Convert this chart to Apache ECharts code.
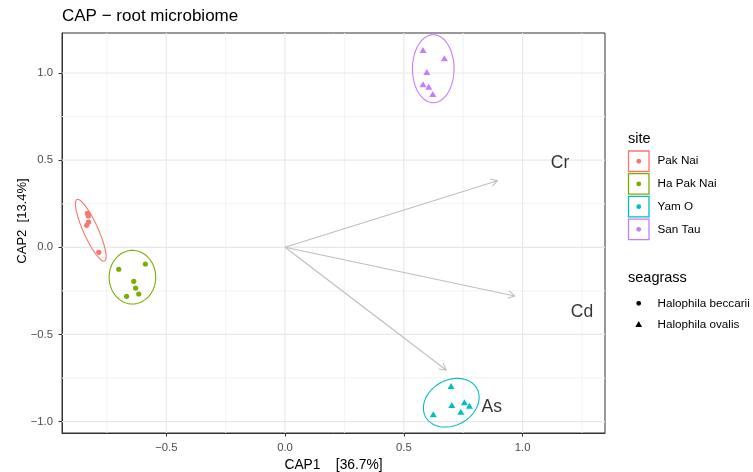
<!DOCTYPE html>
<html>
<head>
<meta charset="utf-8">
<title>CAP − root microbiome</title>
<script src="https://cdn.jsdelivr.net/npm/echarts@6/dist/echarts.min.js"></script>
<style>
  html, body { margin: 0; padding: 0; background: #fff; }
  #chart { width: 753px; height: 472px; }
</style>
</head>
<body>
<div id="chart"></div>
<script>
// ---- data ----
const sites = ['Pak Nai', 'Ha Pak Nai', 'Yam O', 'San Tau'];
const siteColors = ['#F8766D', '#7CAE00', '#00BFC4', '#C77CFF'];
const seagrassTypes = ['Halophila beccarii', 'Halophila ovalis'];
const siteSeagrass = [0, 0, 1, 1];

// CAP1 / CAP2 sample scores per site
const pakNai = [[-0.832, 0.195], [-0.828, 0.180], [-0.827, 0.145], [-0.835, 0.126], [-0.784, -0.029]];
const haPakNai = [[-0.700, -0.126], [-0.588, -0.096], [-0.637, -0.195], [-0.629, -0.234], [-0.616, -0.268], [-0.667, -0.281]];
const yamO = [[0.699, -0.796], [0.702, -0.905], [0.755, -0.889], [0.776, -0.909], [0.740, -0.943], [0.624, -0.958]];
const sanTau = [[0.581, 1.132], [0.671, 1.084], [0.597, 1.006], [0.581, 0.935], [0.605, 0.921], [0.622, 0.880]];
const siteScores = [pakNai, haPakNai, yamO, sanTau];

// site ellipses: centre and two conjugate half-axis vectors (CAP units)
const ellipseCentres = [[-0.818, 0.098], [-0.6425, -0.1715], [0.6998, -0.8916], [0.624, 1.0247]];
const ellipseAxisU = [[0.0581, -0.1761], [0.0981, 0], [0.1077, 0.082], [0.0876, 0]];
const ellipseAxisV = [[0.0282, 0.0172], [0, 0.1538], [0.0464, -0.1132], [0, 0.195]];

// environmental vectors (metals)
const envNames = ['Cr', 'Cd', 'As'];
const envVectors = [[0.894, 0.382], [0.967, -0.279], [0.678, -0.704]];
const envLabelPos = [[1.158, 0.485], [1.250, -0.373], [0.870, -0.915]];

// axes
const xTicks = [-0.5, 0, 0.5, 1.0];
const yTicks = [-1.0, -0.5, 0, 0.5, 1.0];
const xMinor = [-0.75, -0.25, 0.25, 0.75, 1.25];
const yMinor = [-0.75, -0.25, 0.25, 0.75];
const xRange = [-0.939, 1.347];
const yRange = [-1.0654, 1.2295];
const xTitle = 'CAP1    [36.7%]';
const yTitle = 'CAP2  [13.4%]';
const chartTitle = 'CAP \u2212 root microbiome';

// ---- chart ----
const FONT = '"Liberation Sans", Arial, Helvetica, sans-serif';
const fmt = v => v.toFixed(1).replace('-', '\u2212');

// panel grid lines (minor first, major on top)
const gridSeries = {
  type: 'custom', name: 'panel grid', silent: true, z: 1,
  data: [[0, 0]],
  encode: { x: 0, y: 1 },
  renderItem: (params, api) => {
    const children = [];
    const vline = (v, color, w) => {
      const a = api.coord([v, yRange[0]]), b = api.coord([v, yRange[1]]);
      children.push({ type: 'line', shape: { x1: a[0], y1: a[1], x2: b[0], y2: b[1] }, style: { stroke: color, lineWidth: w } });
    };
    const hline = (v, color, w) => {
      const a = api.coord([xRange[0], v]), b = api.coord([xRange[1], v]);
      children.push({ type: 'line', shape: { x1: a[0], y1: a[1], x2: b[0], y2: b[1] }, style: { stroke: color, lineWidth: w } });
    };
    xMinor.forEach(v => vline(v, '#F2F2F2', 1));
    yMinor.forEach(v => hline(v, '#F2F2F2', 1));
    xTicks.forEach(v => vline(v, '#E8E8E8', 1.2));
    yTicks.forEach(v => hline(v, '#E8E8E8', 1.2));
    return { type: 'group', children };
  }
};

const ellipseSeries = sites.map((s, i) => ({
  type: 'custom', name: s + ' ellipse', silent: true, z: 3,
  data: [[...ellipseCentres[i], ...ellipseAxisU[i], ...ellipseAxisV[i]]],
  encode: { x: 0, y: 1 },
  renderItem: (params, api) => {
    const c = [api.value(0), api.value(1)];
    const u = [api.value(2), api.value(3)];
    const w = [api.value(4), api.value(5)];
    const pts = [];
    for (let k = 0; k < 120; k++) {
      const t = (2 * Math.PI * k) / 120;
      pts.push(api.coord([c[0] + u[0] * Math.cos(t) + w[0] * Math.sin(t),
                          c[1] + u[1] * Math.cos(t) + w[1] * Math.sin(t)]));
    }
    return { type: 'polygon', shape: { points: pts },
             style: { fill: 'none', stroke: siteColors[i], lineWidth: 1.1 } };
  }
}));

const arrowSeries = {
  type: 'custom', name: 'vectors', silent: true, z: 2,
  data: envVectors.map(v => [0, 0, v[0], v[1]]),
  encode: { x: [0, 2], y: [1, 3] },
  renderItem: (params, api) => {
    const a = api.coord([api.value(0), api.value(1)]);
    const b = api.coord([api.value(2), api.value(3)]);
    const ang = Math.atan2(b[1] - a[1], b[0] - a[0]);
    const L = 7.5, h = Math.PI / 6;
    const p1 = [b[0] - L * Math.cos(ang - h), b[1] - L * Math.sin(ang - h)];
    const p2 = [b[0] - L * Math.cos(ang + h), b[1] - L * Math.sin(ang + h)];
    const st = { stroke: '#BEBEBE', lineWidth: 1.1, fill: 'none' };
    return { type: 'group', children: [
      { type: 'line', shape: { x1: a[0], y1: a[1], x2: b[0], y2: b[1] }, style: st },
      { type: 'polyline', shape: { points: [p1, b, p2] }, style: st }
    ] };
  }
};

const envLabelSeries = {
  type: 'scatter', name: 'vector labels', silent: true, z: 4,
  symbolSize: 0,
  data: envLabelPos.map((p, i) => ({ value: p, name: envNames[i] })),
  label: { show: true, position: 'inside', formatter: p => p.name,
           fontFamily: FONT, fontSize: 17.5, color: '#000' }
};

const pointSeries = sites.map((s, i) => ({
  type: 'scatter', name: s, z: 5,
  data: siteScores[i],
  symbol: siteSeagrass[i] === 0 ? 'circle' : 'triangle',
  symbolSize: siteSeagrass[i] === 0 ? 5.2 : [7, 6],
  itemStyle: { color: siteColors[i], opacity: 1 }
}));

// legend drawn as graphic elements
const legendX = 628, keySize = 21.5, keyPitch = 22.7, siteKeyTop = 151;
const legend = [
  { type: 'text', left: legendX, top: 131, style: { text: 'site', font: `14.5px ${FONT}`, fill: '#000' } }
];
sites.forEach((s, i) => {
  const y = siteKeyTop + i * keyPitch;
  legend.push({ type: 'rect', shape: { x: legendX + 0.5, y: y, width: keySize - 1, height: keySize - 1 },
                style: { fill: '#fff', stroke: siteColors[i], lineWidth: 1.3 } });
  legend.push({ type: 'circle', shape: { cx: legendX + keySize / 2, cy: y + keySize / 2 - 0.5, r: 2.4 },
                style: { fill: siteColors[i] } });
  legend.push({ type: 'text', x: 657.5, y: y + keySize / 2 - 0.5,
                style: { text: s, font: `11.7px ${FONT}`, fill: '#000', verticalAlign: 'middle' } });
});
legend.push({ type: 'text', left: legendX, top: 270, style: { text: 'seagrass', font: `14.5px ${FONT}`, fill: '#000' } });
seagrassTypes.forEach((g, i) => {
  const cy = 303.3 + i * 21;
  if (i === 0) {
    legend.push({ type: 'circle', shape: { cx: 638.7, cy: cy, r: 2.4 }, style: { fill: '#000' } });
  } else {
    legend.push({ type: 'polygon', shape: { points: [[638.7, cy - 3.2], [642.1, cy + 2.6], [635.3, cy + 2.6]] },
                  style: { fill: '#000' } });
  }
  legend.push({ type: 'text', x: 657.5, y: cy,
                style: { text: g, font: `11.7px ${FONT}`, fill: '#000', verticalAlign: 'middle' } });
});
// rotated y-axis title
legend.push({ type: 'text', x: 22.5, y: 221, rotation: Math.PI / 2,
              style: { text: yTitle, font: `13px ${FONT}`, fill: '#000', align: 'center', verticalAlign: 'middle' } });

const chart = echarts.init(document.getElementById('chart'), null, { renderer: 'canvas' });
chart.setOption({
  animation: false,
  backgroundColor: '#fff',
  textStyle: { fontFamily: FONT },
  title: {
    text: chartTitle, left: 57, top: 3,
    textStyle: { fontFamily: FONT, fontSize: 17, fontWeight: 'normal', color: '#000' }
  },
  grid: {
    left: 62, right: 148, top: 33, bottom: 39,
    containLabel: false, outerBoundsMode: 'none',
    show: true, backgroundColor: '#fff', borderColor: '#333', borderWidth: 1, z: 0
  },
  xAxis: {
    type: 'value', min: xRange[0], max: xRange[1],
    name: xTitle, nameLocation: 'middle', nameGap: 20.5,
    nameTextStyle: { fontFamily: FONT, fontSize: 13.8, color: '#000' },
    axisLine: { show: true, onZero: false, lineStyle: { color: '#333', width: 1 } },
    axisTick: { show: true, length: 3.5, customValues: xTicks, lineStyle: { color: '#333' } },
    axisLabel: { customValues: xTicks, formatter: fmt, margin: 9, fontFamily: FONT, fontSize: 11.3, color: '#4D4D4D' },
    splitLine: { show: false }
  },
  yAxis: {
    type: 'value', min: yRange[0], max: yRange[1],
    axisLine: { show: true, onZero: false, lineStyle: { color: '#333', width: 1 } },
    axisTick: { show: true, length: 3.5, customValues: yTicks, lineStyle: { color: '#333' } },
    axisLabel: { customValues: yTicks, formatter: fmt, margin: 9, fontFamily: FONT, fontSize: 11.3, color: '#4D4D4D' },
    splitLine: { show: false }
  },
  graphic: legend,
  series: [gridSeries, arrowSeries, ...ellipseSeries, ...pointSeries, envLabelSeries]
});
</script>
</body>
</html>
